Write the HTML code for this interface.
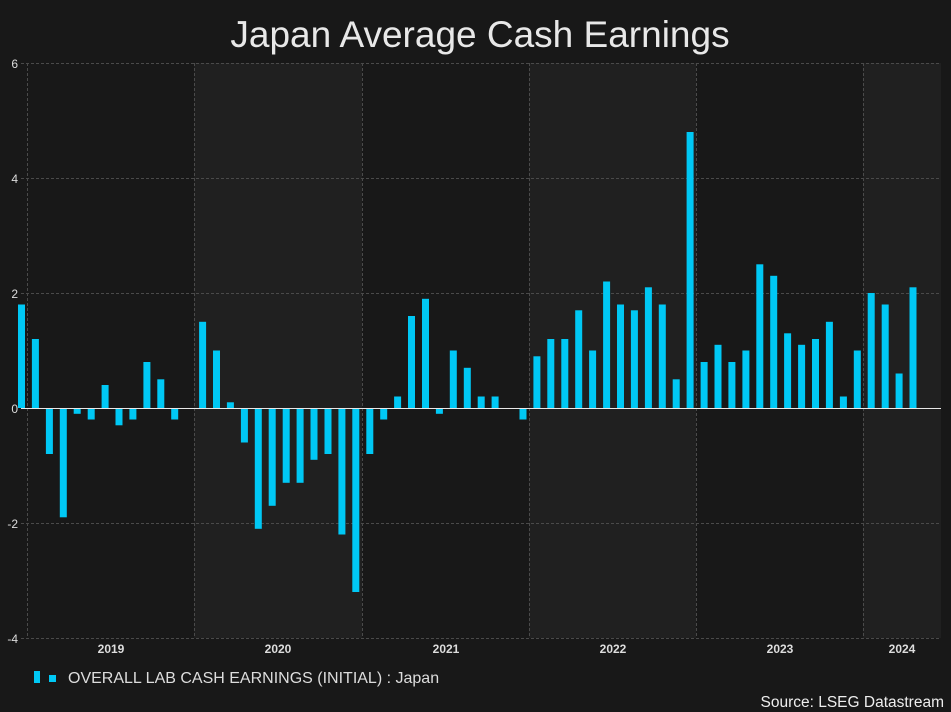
<!DOCTYPE html>
<html><head><style>
html,body{margin:0;padding:0;background:#181818;width:951px;height:712px;overflow:hidden;font-family:"Liberation Sans",sans-serif}
svg{display:block}
</style></head><body>
<svg width="951" height="712" xmlns="http://www.w3.org/2000/svg" font-family="Liberation Sans, sans-serif">
<rect width="951" height="712" fill="#181818"/>
<rect x="194" y="63" width="168" height="575" fill="#202020"/>
<rect x="529" y="63" width="167" height="575" fill="#202020"/>
<rect x="863" y="63" width="78" height="575" fill="#202020"/>
<g stroke="#4a4a4a" stroke-dasharray="3,2" stroke-width="1">
<line x1="21" y1="63.5" x2="941" y2="63.5"/>
<line x1="21" y1="178.5" x2="941" y2="178.5"/>
<line x1="21" y1="293.5" x2="941" y2="293.5"/>
<line x1="21" y1="523.5" x2="941" y2="523.5"/>
<line x1="21" y1="638.5" x2="941" y2="638.5"/>
<line x1="27.5" y1="63" x2="27.5" y2="638"/>
<line x1="194.5" y1="63" x2="194.5" y2="638"/>
<line x1="362.5" y1="63" x2="362.5" y2="638"/>
<line x1="529.5" y1="63" x2="529.5" y2="638"/>
<line x1="696.5" y1="63" x2="696.5" y2="638"/>
<line x1="863.5" y1="63" x2="863.5" y2="638"/>
</g>
<g fill="#ddd" font-size="12" text-anchor="end">
<text x="18" y="68">6</text><text x="18" y="183">4</text><text x="18" y="298">2</text><text x="18" y="413">0</text><text x="18" y="528">-2</text><text x="18" y="643">-4</text>
</g>
<g fill="#ddd" font-size="12" font-weight="bold" text-anchor="middle">
<text x="111" y="653">2019</text><text x="278" y="653">2020</text><text x="446" y="653">2021</text><text x="613" y="653">2022</text><text x="780" y="653">2023</text><text x="902" y="653">2024</text>
</g>
<g id="bars" fill="#00c8f5"></g>
<line x1="21" y1="408.5" x2="941" y2="408.5" stroke="#e8e8e8" stroke-width="1"/>
<text x="480" y="47" fill="#e8e8e8" font-size="37" text-anchor="middle">Japan Average Cash Earnings</text>
<rect x="34" y="671" width="6" height="12" fill="#00c8f5"/>
<rect x="49" y="675" width="7" height="7" fill="#00c8f5"/>
<text x="68" y="683" fill="#ddd" font-size="16">OVERALL LAB CASH EARNINGS (INITIAL) : Japan</text>
<text x="944" y="707" fill="#eee" font-size="15.5" text-anchor="end">Source: LSEG Datastream</text>
</svg>
<script>
var v=[1.8,1.2,-0.8,-1.9,-0.1,-0.2,0.4,-0.3,-0.2,0.8,0.5,-0.2,0,
1.5,1.0,0.1,-0.6,-2.1,-1.7,-1.3,-1.3,-0.9,-0.8,-2.2,-3.2,
-0.8,-0.2,0.2,1.6,1.9,-0.1,1.0,0.7,0.2,0.2,0,-0.2,
0.9,1.2,1.2,1.7,1.0,2.2,1.8,1.7,2.1,1.8,0.5,4.8,
0.8,1.1,0.8,1.0,2.5,2.3,1.3,1.1,1.2,1.5,0.2,1.0,
2.0,1.8,0.6,2.1];
var g=document.getElementById('bars'),s='';
for(var i=0;i<v.length;i++){var cx=21.5+i*13.93;var h=Math.abs(v[i])*57.5;var y=v[i]>0?408-h:408;
if(h>0)s+='<rect x="'+(cx-3.5).toFixed(1)+'" y="'+y.toFixed(1)+'" width="7" height="'+h.toFixed(1)+'"/>';}
g.innerHTML=s;
</script>
</body></html>
